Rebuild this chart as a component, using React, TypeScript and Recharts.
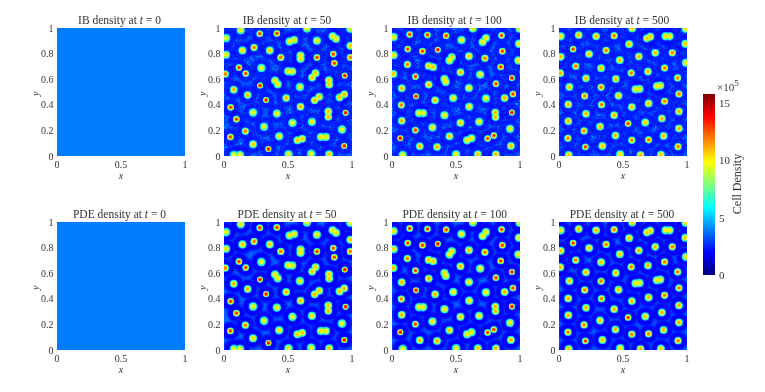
import { ComposedChart, ReferenceArea, Scatter, ScatterChart, XAxis, YAxis } from "recharts";

// [x, y, peak density in units of 1e5]; tight pairs are cells that are splitting or merging
type Blob = [number, number, number];

const blobsT50: Blob[] = [
  [0.131, 0.982, 10], [0.279, 0.955, 13], [0.413, 0.958, 13], [0.648, 0.997, 9.5], [0.987, 0.995, 9.5], [0.016, 0.921, 9.5],
  [0.512, 0.895, 10], [0.548, 0.906, 10], [0.726, 0.901, 10], [0.849, 0.935, 10], [0.875, 0.916, 10], [0.987, 0.861, 10.6],
  [0.144, 0.825, 10.3], [0.235, 0.848, 12], [0.358, 0.825, 10.6], [0.016, 0.791, 10], [0.444, 0.77, 12], [0.598, 0.785, 10],
  [0.598, 0.759, 10], [0.726, 0.77, 13], [0.854, 0.796, 13], [0.862, 0.725, 13], [0.987, 0.77, 12], [0.117, 0.691, 13],
  [0.17, 0.644, 13], [0.292, 0.688, 9.5], [0.01, 0.641, 12], [0.501, 0.662, 10], [0.533, 0.66, 10], [0.689, 0.613, 10.6],
  [0.715, 0.647, 10.6], [0.943, 0.628, 14], [0.399, 0.589, 10], [0.42, 0.56, 10], [0.82, 0.592, 10.6], [0.822, 0.558, 10.6],
  [0.076, 0.518, 11], [0.282, 0.55, 14], [0.593, 0.539, 9.5], [0.185, 0.476, 11], [0.486, 0.453, 11], [0.329, 0.437, 14],
  [0.708, 0.435, 11], [0.744, 0.463, 10.6], [0.903, 0.458, 10.6], [0.94, 0.482, 11], [0.052, 0.38, 13], [0.097, 0.288, 13],
  [0.598, 0.385, 11], [0.227, 0.34, 9.5], [0.413, 0.332, 10], [0.815, 0.348, 10.6], [0.815, 0.306, 11], [0.95, 0.338, 14],
  [0.687, 0.267, 10], [0.313, 0.228, 9.5], [0.535, 0.259, 9.5], [0.922, 0.207, 9.5], [0.167, 0.194, 12], [0.431, 0.154, 10],
  [0.05, 0.149, 13], [0.574, 0.123, 10.6], [0.611, 0.134, 10.6], [0.757, 0.149, 10], [0.796, 0.149, 10], [0.227, 0.092, 10.6],
  [0.94, 0.079, 14], [0.347, 0.055, 14], [0.504, 0.013, 9.5], [0.681, 0.018, 9.5], [0.822, 0.013, 10.6], [0.078, 0.008, 9.5],
  [0.125, 0.008, 9.5],
];

const blobsT100: Blob[] = [
  [0.138, 0.95, 13], [0.277, 0.945, 13], [0.423, 0.94, 13], [0.632, 0.997, 10], [0.856, 0.942, 13], [0.997, 0.995, 10],
  [0.013, 0.929, 10], [0.543, 0.906, 9.8], [0.708, 0.89, 10], [0.734, 0.921, 10], [0.992, 0.877, 10], [0.123, 0.835, 13],
  [0.238, 0.819, 13], [0.358, 0.83, 14], [0.862, 0.819, 13], [0.013, 0.788, 10], [0.601, 0.78, 10.6], [0.449, 0.746, 10],
  [0.467, 0.772, 10], [0.726, 0.764, 12], [0.987, 0.746, 10], [0.12, 0.715, 12], [0.287, 0.704, 10.6], [0.321, 0.694, 10.6],
  [0.849, 0.696, 13], [0.535, 0.654, 11], [0.689, 0.636, 9.8], [0.01, 0.641, 10.6], [0.183, 0.62, 13], [0.937, 0.61, 14],
  [0.41, 0.602, 10], [0.42, 0.579, 10], [0.287, 0.558, 11], [0.812, 0.565, 13], [0.076, 0.529, 11], [0.601, 0.531, 10],
  [0.188, 0.466, 14], [0.478, 0.453, 10], [0.734, 0.45, 9.8], [0.88, 0.453, 11], [0.945, 0.484, 13], [0.337, 0.435, 11],
  [0.073, 0.398, 12], [0.603, 0.385, 10], [0.937, 0.34, 14], [0.211, 0.335, 9.8], [0.243, 0.335, 9.8], [0.41, 0.319, 10],
  [0.807, 0.34, 11], [0.809, 0.304, 11], [0.076, 0.275, 11], [0.681, 0.267, 10], [0.535, 0.259, 10.6], [0.316, 0.223, 10],
  [0.922, 0.212, 9.8], [0.183, 0.202, 13], [0.065, 0.139, 14], [0.449, 0.154, 10.6], [0.587, 0.123, 10], [0.621, 0.139, 10],
  [0.747, 0.136, 13], [0.796, 0.16, 13], [0.217, 0.076, 11], [0.352, 0.071, 11], [0.929, 0.079, 11], [0.501, 0.013, 9.5],
  [0.671, 0.013, 10.6], [0.812, 0.013, 11], [0.084, 0.008, 9.5],
];

const blobsT500: Blob[] = [
  [0.154, 0.945, 11], [0.29, 0.935, 11], [0.431, 0.94, 12], [0.572, 0.997, 10.6], [0.687, 0.919, 10.6], [0.713, 0.932, 10.6],
  [0.833, 0.935, 10], [0.864, 0.935, 10], [0.013, 0.935, 10], [0.99, 0.995, 10], [0.548, 0.874, 10.6], [0.987, 0.877, 10.6],
  [0.11, 0.835, 13], [0.368, 0.825, 12], [0.235, 0.796, 10.6], [0.752, 0.806, 11], [0.885, 0.806, 12], [0.013, 0.775, 10.6],
  [0.624, 0.777, 11], [0.475, 0.749, 10.6], [0.992, 0.728, 10], [0.131, 0.702, 12], [0.329, 0.686, 10.6], [0.825, 0.688, 12],
  [0.695, 0.66, 11], [0.01, 0.647, 11], [0.564, 0.649, 12], [0.211, 0.607, 11], [0.444, 0.602, 11], [0.927, 0.61, 12],
  [0.081, 0.539, 10.6], [0.329, 0.537, 12], [0.598, 0.521, 10], [0.629, 0.524, 10], [0.765, 0.545, 10], [0.791, 0.55, 10],
  [0.937, 0.484, 12], [0.465, 0.471, 10.6], [0.201, 0.469, 12], [0.825, 0.427, 12], [0.7, 0.411, 10.6], [0.073, 0.403, 11],
  [0.332, 0.401, 12], [0.569, 0.382, 11], [0.211, 0.33, 11], [0.937, 0.348, 11], [0.431, 0.319, 11], [0.804, 0.293, 11],
  [0.073, 0.272, 11], [0.674, 0.262, 10.6], [0.54, 0.254, 13], [0.321, 0.23, 10.6], [0.937, 0.215, 11], [0.196, 0.196, 12],
  [0.817, 0.157, 11], [0.441, 0.16, 11], [0.07, 0.139, 12], [0.569, 0.123, 12], [0.7, 0.126, 12], [0.339, 0.079, 10.6],
  [0.206, 0.071, 13], [0.93, 0.073, 12], [0.076, 0.008, 10.6], [0.478, 0.013, 10], [0.637, 0.008, 11], [0.796, 0.01, 10.6],
];

const times = [0, 50, 100, 500];
const timeBlobs: Blob[][] = [[], blobsT50, blobsT100, blobsT500];
const xTicks = [0, 0.5, 1];
const yTicks = [0, 0.2, 0.4, 0.6, 0.8, 1];
const barTicks = [0, 5, 10, 15];
const contourLevels = [2.6, 3.2, 3.8, 4.4, 5, 5.6, 6.2, 6.8, 7.4, 8, 8.6, 9.2, 9.8, 10.4, 11, 11.6, 12.2, 12.8, 13.4, 14];
const barStops = [0, 0.125, 0.375, 0.625, 0.875, 1];

const MAX_DENSITY = 15.8;
const PEAK_BOOST = 0.8; // the read-off peaks came out a bit low against the colour bar
const FONT = "'Liberation Serif', serif";
const TEXT = "#333";
const panelLefts = [56.5, 224, 391.7, 559];
const panelTops = [28, 222.3];

const jet = (v: number) => {
  const t = Math.min(1, Math.max(0, v / MAX_DENSITY));
  const ramp = (c: number) => Math.round(255 * Math.min(1, Math.max(0, 1.5 - Math.abs(4 * t - c))));
  return `rgb(${ramp(3)},${ramp(2)},${ramp(1)})`;
};

// the low flat blobs are spread wider than the sharp red ones, and the edges are steep
const contourRadius = (peak: number, v: number) =>
  (3.2 + (15 - peak) * 0.35) * Math.pow((peak - v) / (peak - 2), 0.45);

const Panel = ({ kind, col, row }: { kind: string; col: number; row: number }) => {
  const isPde = kind === "PDE";
  const blobs = timeBlobs[col].map(([x, y, peak]) => ({ x, y, peak: peak + PEAK_BOOST }));
  const flat = blobs.length === 0;
  const noiseId = `noise-${row}-${col}`;
  const halos = isPde
    ? [{ v: 3, r: 10 }, { v: 2.6, r: 9 }, { v: 2.2, r: 8 }, { v: 1.9, r: 7 }]
    : [{ v: 2.2, r: 9 }, { v: 1.9, r: 7.5 }];
  const background = flat ? 3.9 : isPde ? 3.5 : 2.7;

  return (
    <div style={{ position: "absolute", left: panelLefts[col] - 40, top: panelTops[row] - 10 }}>
      <div
        style={{
          position: "absolute",
          left: 0,
          width: 206,
          top: -4,
          textAlign: "center",
          font: `11.5px ${FONT}`,
          color: TEXT,
          whiteSpace: "nowrap",
        }}
      >
        {kind} density at <i>t</i> = {times[col]}
      </div>
      <ScatterChart width={188} height={168} margin={{ top: 10, right: 20, bottom: 0, left: 0 }}>
        <defs>
          <filter id={noiseId} x="0" y="0" width="100%" height="100%">
            <feTurbulence type="fractalNoise" baseFrequency="0.55" numOctaves={2} seed={col + 3} />
            <feColorMatrix values="0 0 0 0 0  0 0 0 0 0.42  0 0 0 0 1  2.2 0 0 0 -0.85" />
          </filter>
        </defs>
        <XAxis
          type="number"
          dataKey="x"
          domain={[0, 1]}
          ticks={xTicks}
          interval={0}
          allowDataOverflow
          axisLine={false}
          tickLine={false}
          height={30}
          tickSize={4.5}
          tickMargin={0}
          tick={{ fontSize: 10, fontFamily: FONT, fill: TEXT }}
          label={{ value: "x", position: "insideBottom", offset: 7, style: { fontSize: 10, fontStyle: "italic", fontFamily: FONT, fill: TEXT } }}
        />
        <YAxis
          type="number"
          dataKey="y"
          domain={[0, 1]}
          ticks={yTicks}
          interval={0}
          allowDataOverflow
          axisLine={false}
          tickLine={false}
          width={40}
          tickSize={3.5}
          tickMargin={0}
          tick={{ fontSize: 10, fontFamily: FONT, fill: TEXT }}
          label={{ value: "y", angle: -90, position: "insideLeft", offset: 18, dy: 4, style: { fontSize: 10, fontStyle: "italic", fontFamily: FONT, fill: TEXT } }}
        />
        <ReferenceArea
          x1={0}
          x2={1}
          y1={0}
          y2={1}
          shape={(p: any) => (
            <g>
              <rect x={p.x} y={p.y} width={p.width} height={p.height} fill={jet(background)} />
              {!isPde && !flat && <rect x={p.x} y={p.y} width={p.width} height={p.height} filter={`url(#${noiseId})`} />}
            </g>
          )}
        />
        {!flat &&
          halos.map((h) => (
            <Scatter
              key={`halo-${h.v}`}
              data={blobs}
              isAnimationActive={false}
              shape={(p: any) => (
                <circle cx={p.cx} cy={p.cy} r={h.r + (15 - p.payload.peak) * 0.3} fill={jet(h.v)} fillOpacity={isPde ? 1 : 0.45} />
              )}
            />
          ))}
        {!flat &&
          contourLevels.map((v) => (
            <Scatter
              key={v}
              data={blobs.filter((b) => b.peak > v)}
              isAnimationActive={false}
              shape={(p: any) => <circle cx={p.cx} cy={p.cy} r={contourRadius(p.payload.peak, v)} fill={jet(v)} />}
            />
          ))}
      </ScatterChart>
    </div>
  );
};

const ColorBar = () => (
  <div style={{ position: "absolute", left: 703, top: 84 }}>
    <ComposedChart width={36} height={200} data={[{ v: 0 }]} margin={{ top: 10, right: 0, bottom: 9, left: 0 }}>
      <defs>
        <linearGradient id="jetBar" x1="0" y1="1" x2="0" y2="0">
          {barStops.map((s) => (
            <stop key={s} offset={s} stopColor={jet(s * MAX_DENSITY)} />
          ))}
        </linearGradient>
      </defs>
      <XAxis type="number" dataKey="v" domain={[0, 1]} hide />
      <YAxis
        type="number"
        orientation="right"
        domain={[0, MAX_DENSITY]}
        ticks={barTicks}
        interval={0}
        allowDataOverflow
        axisLine={false}
        tickLine={false}
        width={24}
        tickSize={4}
        tickMargin={0}
        tick={{ fontSize: 11, fontFamily: FONT, fill: TEXT }}
      />
      <ReferenceArea x1={0} x2={1} y1={0} y2={MAX_DENSITY} fill="url(#jetBar)" fillOpacity={1} />
    </ComposedChart>
    <div style={{ position: "absolute", left: 14, top: -3, font: `11px ${FONT}`, color: TEXT, whiteSpace: "nowrap" }}>
      ×10<sup style={{ fontSize: 9, lineHeight: 0 }}>5</sup>
    </div>
    <div
      style={{
        position: "absolute",
        left: 34,
        top: 100,
        font: `12px ${FONT}`,
        color: TEXT,
        whiteSpace: "nowrap",
        transform: "translate(-50%, -50%) rotate(-90deg)",
      }}
    >
      Cell Density
    </div>
  </div>
);

export default function App() {
  return (
    <div style={{ position: "absolute", left: 0, top: 0, width: 765, height: 392, overflow: "hidden", background: "#fff", filter: "blur(0.35px)" }}>
      {["IB", "PDE"].map((kind, row) =>
        times.map((_, col) => <Panel key={`${kind}-${col}`} kind={kind} col={col} row={row} />),
      )}
      <ColorBar />
    </div>
  );
}
